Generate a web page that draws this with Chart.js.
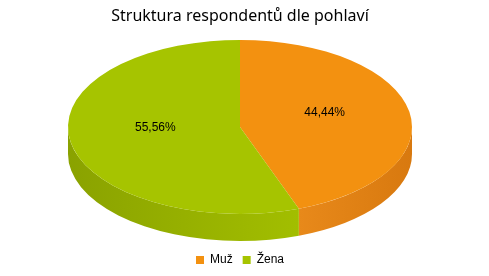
<!DOCTYPE html>
<html>
<head>
<meta charset="utf-8">
<script src="https://cdn.jsdelivr.net/npm/chart.js@4.4.0/dist/chart.umd.min.js"></script>
<style>
    html, body { margin: 0; padding: 0; background: #fff; }
</style>
</head>
<body>
<canvas id="myChart" width="489" height="276"></canvas>
<script>
const categories = ['Muž', 'Žena'];
const shares = [44.44, 55.56];
const valueLabels = ['44,44%', '55,56%'];

const topColors = ['#F39110', '#A6C400'];
const sideLight = ['#E8891A', '#A2BE00'];
const sideDark = ['#D8790F', '#8AA200'];

// ellipse size of the "3d" pie and its thickness
const pieRx = 172;
const pieRy = 87;
const pieDepth = 27;

function pieGeometry(chart, arc) {
    const area = chart.chartArea;
    const cx = (area.left + area.right) / 2;
    const cy = (area.top + area.bottom) / 2 - pieDepth / 2;
    return { cx: cx, cy: cy, sx: pieRx / arc.outerRadius, sy: pieRy / arc.outerRadius };
}

function frontParts(s, e) {
    const parts = [];
    [0, 2 * Math.PI, -2 * Math.PI].forEach(k => {
        const a1 = Math.max(s, k);
        const a2 = Math.min(e, k + Math.PI);
        if (a2 > a1) parts.push([a1, a2]);
    });
    return parts;
}

const pie3d = {
    id: 'pie3d',
    beforeDatasetDraw(chart, args) {
        const ctx = chart.ctx;
        const arcs = args.meta.data;
        if (!arcs.length) return;
        const g = pieGeometry(chart, arcs[0]);

        // side walls first
        arcs.forEach((arc, i) => {
            frontParts(arc.startAngle, arc.endAngle).forEach(p => {
                const x1 = g.cx + pieRx * Math.cos(p[0]);
                const x2 = g.cx + pieRx * Math.cos(p[1]);
                const grad = ctx.createLinearGradient(Math.min(x1, x2), 0, Math.max(x1, x2), 0);
                if (i === 0) {
                    grad.addColorStop(0, sideLight[i]);
                    grad.addColorStop(1, sideDark[i]);
                } else {
                    grad.addColorStop(0, sideDark[i]);
                    grad.addColorStop(1, sideLight[i]);
                }
                ctx.save();
                ctx.beginPath();
                ctx.ellipse(g.cx, g.cy, pieRx, pieRy, 0, p[0], p[1]);
                ctx.ellipse(g.cx, g.cy + pieDepth, pieRx, pieRy, 0, p[1], p[0], true);
                ctx.closePath();
                ctx.fillStyle = grad;
                ctx.fill();
                ctx.restore();
            });
        });

        // squash the real pie into the top ellipse
        const arc = arcs[0];
        ctx.save();
        ctx.translate(g.cx, g.cy);
        ctx.scale(g.sx, g.sy);
        ctx.translate(-arc.x, -arc.y);
    },
    afterDatasetDraw(chart, args) {
        if (args.meta.data.length) chart.ctx.restore();
    },
    afterDatasetsDraw(chart) {
        const ctx = chart.ctx;
        const arcs = chart.getDatasetMeta(0).data;
        if (!arcs.length) return;
        const g = pieGeometry(chart, arcs[0]);
        ctx.save();
        ctx.font = '12px "Liberation Sans", Arial, sans-serif';
        ctx.fillStyle = '#000';
        ctx.textAlign = 'center';
        ctx.textBaseline = 'middle';
        arcs.forEach((arc, i) => {
            const mid = (arc.startAngle + arc.endAngle) / 2;
            const x = g.cx + pieRx * 0.5 * Math.cos(mid);
            const y = g.cy + pieRy * 0.5 * Math.sin(mid) - 7;
            ctx.fillText(valueLabels[i], x, y);
        });
        ctx.restore();
    }
};

var ctx = document.getElementById('myChart').getContext('2d');
var chart = new Chart(ctx, {
    type: 'pie',
    data: {
        labels: categories,
        datasets: [{
            data: shares,
            backgroundColor: topColors,
            borderWidth: 0,
            clip: false
        }]
    },
    options: {
        responsive: false,
        animation: false,
        devicePixelRatio: 1,
        events: [],
        layout: { padding: { right: 9 } },
        plugins: {
            title: {
                display: true,
                text: 'Struktura respondentů dle pohlaví',
                color: '#000',
                font: { family: '"Noto Sans"', size: 16, weight: 'normal' },
                padding: { top: 7, bottom: 10.6 }
            },
            legend: {
                position: 'bottom',
                labels: {
                    color: '#000',
                    boxWidth: 8,
                    boxHeight: 8,
                    padding: 10,
                    font: { family: '"Liberation Sans", Arial', size: 12 }
                }
            },
            tooltip: { enabled: false }
        }
    },
    plugins: [pie3d]
});
</script>
</body>
</html>
